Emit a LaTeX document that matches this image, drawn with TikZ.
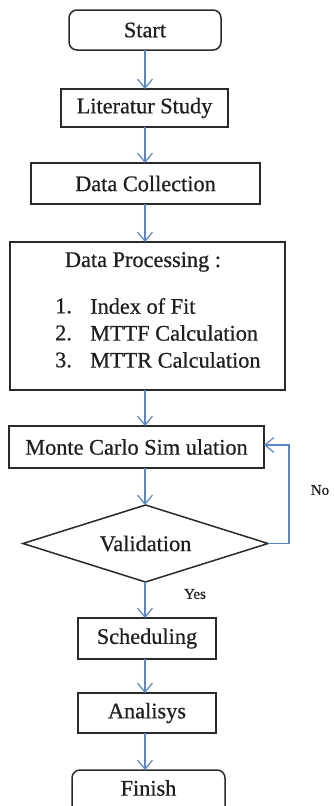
\documentclass[tikz,border=0pt]{standalone}
\usepackage{fontspec}
\setmainfont{Liberation Serif}[FakeBold=0.6]
\usetikzlibrary{arrows.meta,shapes.geometric}
\definecolor{arrblue}{HTML}{5B87C5}
\definecolor{boxline}{HTML}{2A2A2A}
\tikzset{
  x=1pt,y=1pt,
  txt/.style={font=\fontsize{22.3}{26}\selectfont, inner sep=0pt, text=black!88},
  smalltxt/.style={font=\fontsize{15}{18}\selectfont, inner sep=0pt, text=black!88},
  arr/.style={draw=arrblue, line width=1.2pt, -{Straight Barb[length=9pt,width=15pt,line width=1.2pt]}},
  boxst/.style={draw=boxline, line width=1.5pt},
}
\begin{document}
\begin{tikzpicture}
\clip (0,0) rectangle (334,-806);
\fill[white] (0,0) rectangle (334,-806);
% boxes
\draw[boxst, rounded corners=8pt] (69,-10) rectangle (221,-50);
\node[txt] (start) at (145,-30) {Start};
\draw[boxst] (61,-89) rectangle (228,-127);
\node[txt] (lit) at (144.5,-108) {Literatur Study};
\draw[boxst] (31,-163) rectangle (260,-204);
\node[txt] (dc) at (145.5,-183.5) {Data Collection};
\draw[boxst] (10,-242) rectangle (285,-390);
\node[txt] (dp) at (143,-262) {Data Processing :};
\node[txt, anchor=west] (n1) at (55,-306) {1.};
\node[txt, anchor=west] (t1) at (90,-306) {Index of Fit};
\node[txt, anchor=west] (n2) at (55,-333) {2.};
\node[txt, anchor=west] (t2) at (90,-333) {MTTF Calculation};
\node[txt, anchor=west] (n3) at (55,-360) {3.};
\node[txt, anchor=west] (t3) at (90,-360) {MTTR Calculation};
\draw[boxst] (9,-426) rectangle (264,-468);
\node[txt] (mc) at (136.5,-447) {Monte Carlo Sim ulation};
\draw[boxst] (145.5,-505) -- (268,-543.5) -- (145.5,-582) -- (23,-543.5) -- cycle;
\node[txt] (val) at (145.5,-543.5) {Validation};
\draw[boxst] (78,-618) rectangle (216,-659);
\node[txt] (sch) at (147,-638.5) {Scheduling};
\draw[boxst] (78,-693) rectangle (216,-733);
\node[txt] (ana) at (147,-713) {Analisys};
\draw[boxst, rounded corners=8pt] (72,-770) rectangle (225,-830);
\node[txt] (fin) at (148.5,-788) {Finish};
% connector anchors
\coordinate (a1s) at (145,-50);  \coordinate (a1e) at (145,-89);
\coordinate (a2s) at (145,-127); \coordinate (a2e) at (145,-163);
\coordinate (a3s) at (145,-204); \coordinate (a3e) at (145,-242);
\coordinate (a4s) at (145,-390); \coordinate (a4e) at (145,-426);
\coordinate (a5s) at (145,-468); \coordinate (a5e) at (145,-505);
\coordinate (a6s) at (145,-582); \coordinate (a6e) at (145,-618);
\coordinate (a7s) at (145,-659); \coordinate (a7e) at (145,-693);
\coordinate (a8s) at (145,-733); \coordinate (a8e) at (145,-770);
\coordinate (vr) at (268,-543.5);
\coordinate (loopx) at (289,0);
\coordinate (mcr) at (264,-445);
\draw[arr] (a1s) -- (a1e);
\draw[arr] (a2s) -- (a2e);
\draw[arr] (a3s) -- (a3e);
\draw[arr] (a4s) -- (a4e);
\draw[arr] (a5s) -- (a5e);
\draw[arr] (a6s) -- (a6e);
\draw[arr] (a7s) -- (a7e);
\draw[arr] (a8s) -- (a8e);
\draw[arr] (vr) -- (vr -| loopx) -- (mcr -| loopx) -- (mcr);
\node[smalltxt] (no) at (320,-490) {No};
\node[smalltxt] (yes) at (195,-594) {Yes};
\end{tikzpicture}
\end{document}
